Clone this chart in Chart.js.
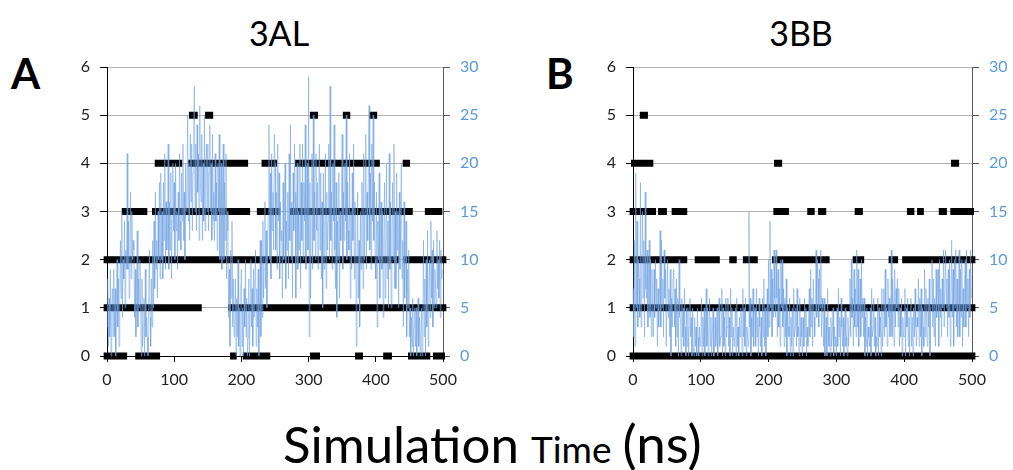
<!DOCTYPE html>
<html>
<head>
<meta charset="utf-8">
<script src="https://cdn.jsdelivr.net/npm/chart.js@4.4.0/dist/chart.umd.min.js"></script>
<style>
    body { margin: 0; background: #fff; width: 1013px; height: 470px; overflow: hidden; position: relative; font-family: Lato, "Open Sans", sans-serif; }
    .panel { position: absolute; top: 0; height: 400px; }
    #wrapA { left: 0; width: 500px; }
    #wrapB { left: 526px; width: 487px; }
    .title { position: absolute; top: 12px; font-size: 34px; color: #000; transform: translateX(-50%); }
    .letter { position: absolute; top: 48px; font-size: 42px; font-weight: bold; color: #000; }
    #xlabel { position: absolute; left: 283px; top: 411px; white-space: nowrap; color: #000; display: flex; align-items: baseline; line-height: normal; }
    #xlabel .big { font-size: 51px; }
    #xlabel .small { font-size: 37px; margin-left: 12px; }
    #xlabel .ns { font-size: 53px; margin-left: 11px; }
</style>
</head>
<body>
<div class="title" style="left:279px">3AL</div>
<div class="title" style="left:801px">3BB</div>
<div class="letter" style="left:11px">A</div>
<div class="letter" style="left:546px">B</div>
<div class="panel" id="wrapA"><canvas id="chartA"></canvas></div>
<div class="panel" id="wrapB"><canvas id="chartB"></canvas></div>
<div id="xlabel"><span class="big">Simulation</span><span class="small">Time</span><span class="ns">(ns)</span></div>

<script>
// time between samples of the blue trace (ns)
const sampleStep = 1;

// blue trace, right axis (0-30) (one row = 10 ns)
const blueA = [
    3,8,1,6,2,9,0,5,7,2,
    9,2,7,0,5,10,3,8,1,6,
    12,6,15,4,10,8,14,5,11,9,
    21,9,14,6,13,17,8,15,10,12,
    11,4,9,2,7,13,3,8,5,10,
    5,0,8,1,3,6,0,9,2,4,
    2,0,6,11,4,1,8,3,12,5,
    14,7,17,9,12,6,15,10,18,8,
    19,10,15,8,18,12,21,9,16,11,
    12,22,9,16,11,19,8,14,20,13,
    18,10,20,13,15,9,17,12,21,14,
    11,19,14,22,12,17,10,20,15,18,
    25,14,20,12,23,16,22,13,19,24,
    28,15,22,13,24,17,21,12,26,18,
    16,23,12,20,14,25,13,19,22,15,
    22,13,19,24,15,20,12,23,17,14,
    12,21,14,18,11,20,15,23,10,17,
    20,9,16,22,10,18,12,21,8,15,
    13,4,9,1,11,6,14,3,8,2,
    3,8,0,6,2,10,1,5,0,7,
    9,1,5,0,7,3,10,2,6,0,
    2,8,0,5,10,3,7,1,9,4,
    4,11,1,7,3,9,0,6,12,2,
    12,4,14,6,9,16,7,13,5,11,
    15,24,10,19,8,21,13,17,11,23,
    20,11,17,9,22,14,19,8,16,12,
    13,6,18,10,15,20,7,14,11,17,
    8,21,12,24,10,16,6,19,13,22,
    17,6,14,20,9,15,11,22,7,18,
    12,22,10,18,14,24,9,16,20,11,
    29,2,18,6,15,21,9,25,12,17,
    10,21,13,18,9,16,22,11,19,8,
    16,5,19,9,13,21,7,17,11,14,
    22,10,28,12,17,9,20,14,24,11,
    7,18,4,14,10,19,6,15,12,17,
    23,9,17,12,20,14,25,10,18,13,
    11,21,6,15,9,19,12,22,8,16,
    14,1,10,17,6,12,3,15,9,18,
    18,7,21,10,15,23,9,17,12,20,
    26,11,19,9,22,14,25,12,18,10,
    8,17,3,14,10,19,6,13,16,9,
    15,4,12,18,6,11,20,8,14,5,
    21,9,16,5,13,18,10,22,7,15,
    7,19,11,15,5,17,9,13,20,8,
    12,3,16,6,10,14,2,9,5,11,
    2,5,0,4,1,6,0,3,5,1,
    5,0,3,6,1,4,0,2,5,0,
    4,12,2,8,0,10,3,13,1,7,
    10,4,14,6,11,3,12,5,9,7,
    5,13,7,10,6,12,4,11,8,9
];

// blue trace, right axis (0-30) (one row = 10 ns)
const blueB = [
    7,2,12,1,19,5,14,3,10,8,
    4,18,3,9,15,6,12,2,17,7,
    6,11,3,8,12,4,10,2,9,5,
    2,9,4,10,5,8,1,7,3,6,
    13,3,12,5,8,2,11,6,9,1,
    1,10,4,7,2,9,0,6,3,8,
    9,3,7,1,8,2,6,0,10,4,
    4,0,6,2,5,1,7,3,0,5,
    1,5,0,3,6,2,4,0,5,1,
    0,4,1,3,0,5,2,0,3,1,
    2,6,0,4,1,5,0,3,7,1,
    5,0,3,6,1,4,0,2,5,0,
    0,4,1,2,5,0,3,6,1,2,
    2,7,0,5,1,4,0,6,2,3,
    6,1,4,0,7,2,5,0,3,1,
    2,5,0,6,1,3,0,4,2,5,
    4,0,7,2,5,1,6,0,3,2,
    1,15,3,6,0,4,2,7,1,5,
    5,1,7,2,4,0,6,3,1,4,
    0,6,2,8,1,5,0,3,7,2,
    10,3,14,5,9,2,8,4,11,6,
    4,11,6,2,9,3,7,1,10,5,
    10,3,7,1,6,2,8,0,5,3,
    2,6,0,4,1,5,0,7,2,3,
    5,1,7,2,3,0,6,1,4,2,
    0,4,1,6,2,5,0,3,1,4,
    7,2,9,3,6,1,8,4,2,5,
    11,4,10,8,3,9,5,11,2,6,
    5,1,6,0,2,4,0,7,3,1,
    3,0,4,1,2,5,0,3,1,2,
    0,5,1,7,2,4,0,6,3,1,
    4,0,3,5,1,2,0,4,1,3,
    8,2,10,4,6,1,9,3,7,2,
    11,3,9,1,5,8,2,10,4,6,
    2,6,0,4,1,5,0,3,2,1,
    5,0,7,2,3,6,1,4,0,2,
    1,6,0,5,2,4,0,7,1,3,
    7,2,9,3,5,1,8,4,6,2,
    4,11,2,8,6,1,9,3,7,5,
    8,3,7,1,5,2,6,0,4,2,
    2,7,0,5,3,6,1,4,0,5,
    6,1,4,0,5,2,7,3,1,4,
    3,8,1,6,2,7,0,5,3,1,
    9,2,7,4,1,6,3,8,0,5,
    5,10,3,8,2,6,1,9,4,7,
    9,1,10,4,7,2,8,5,11,3,
    3,11,5,8,2,9,4,10,1,6,
    12,4,9,1,10,5,11,3,8,2,
    6,11,2,9,4,10,1,7,3,8,
    10,3,11,5,8,2,9,4,11,6
];

// black state markers, left axis (0-6): runs [start ns, end ns] per level
const runsA = [
    [[-5,30],[42,79],[183,193],[202,243],[302,317],[369,381],[411,424],[448,481],[485,503]],
    [[-5,141],[180,505]],
    [[-5,435],[441,505]],
    [[22,60],[67,213],[223,258],[272,455],[473,499]],
    [[71,112],[121,210],[230,253],[280,406],[440,451]],
    [[122,135],[146,158],[302,314],[351,362],[390,402]]
];
const runsB = [
    [[-5,505]],
    [[-5,505]],
    [[-5,80],[91,128],[142,153],[162,184],[205,290],[324,341],[377,391],[397,505]],
    [[-5,34],[37,50],[57,80],[207,230],[257,268],[273,285],[327,339],[404,415],[419,429],[451,463],[468,503]],
    [[-3,30],[208,220],[469,481]],
    [[10,22]]
];

const xTicks = [0, 100, 200, 300, 400, 500];
const leftTicks = [0, 1, 2, 3, 4, 5, 6];
const rightTicks = [0, 5, 10, 15, 20, 25, 30];

const tickBlue = 'rgb(91,155,213)';
const traceBlue = 'rgba(110,160,225,0.55)';

function runsToPoints(runs) {
    const pts = [];
    runs.forEach((levelRuns, level) => {
        levelRuns.forEach(r => {
            pts.push({ x: r[0], y: level }, { x: r[1], y: level }, { x: r[1], y: null });
        });
    });
    return pts;
}

function makePanel(canvasId, blue, runs, rightWidth) {
    const ctx = document.getElementById(canvasId).getContext('2d');
    const trace = blue.map((v, i) => ({ x: i * sampleStep, y: v }));

    return new Chart(ctx, {
        type: 'line',
        data: {
            datasets: [
                {
                    label: 'trace',
                    data: trace,
                    yAxisID: 'y2',
                    borderColor: traceBlue,
                    borderWidth: 1,
                    pointRadius: 0,
                    tension: 0,
                    order: 0,
                    clip: false
                },
                {
                    label: 'state',
                    data: runsToPoints(runs),
                    yAxisID: 'y',
                    borderColor: '#000',
                    borderWidth: 7,
                    borderCapStyle: 'butt',
                    pointRadius: 0,
                    spanGaps: false,
                    order: 1,
                    clip: false
                }
            ]
        },
        options: {
            responsive: true,
            maintainAspectRatio: false,
            animation: false,
            events: [],
            layout: { padding: { top: 67, left: 0, right: 0, bottom: 0 } },
            plugins: { legend: { display: false }, tooltip: { enabled: false } },
            scales: {
                x: {
                    type: 'linear',
                    min: 0,
                    max: 500,
                    afterBuildTicks: s => { s.ticks = xTicks.map(v => ({ value: v })); },
                    afterFit: s => { s.height = 44; },
                    grid: { drawOnChartArea: false, tickLength: 6, color: '#000' },
                    border: { color: '#000', width: 1 },
                    ticks: { color: '#222', font: { family: 'Lato', size: 16 }, padding: 8, maxRotation: 0 }
                },
                y: {
                    position: 'left',
                    min: 0,
                    max: 6,
                    afterBuildTicks: s => { s.ticks = leftTicks.map(v => ({ value: v })); },
                    afterFit: s => { s.width = 107; },
                    grid: { color: '#b3b3b3', tickColor: '#000', tickLength: 7 },
                    border: { color: '#000', width: 1 },
                    ticks: { color: '#222', font: { family: 'Lato', size: 16 }, padding: 10 }
                },
                y2: {
                    position: 'right',
                    min: 0,
                    max: 30,
                    afterBuildTicks: s => { s.ticks = rightTicks.map(v => ({ value: v })); },
                    afterFit: s => { s.width = rightWidth; },
                    grid: { drawOnChartArea: false, color: '#595959', tickLength: 7 },
                    border: { color: '#595959', width: 1 },
                    ticks: { color: tickBlue, font: { family: 'Lato', size: 16 }, padding: 10 }
                }
            }
        }
    });
}

makePanel('chartA', blueA, runsA, 57);
makePanel('chartB', blueB, runsB, 41);
</script>
</body>
</html>
